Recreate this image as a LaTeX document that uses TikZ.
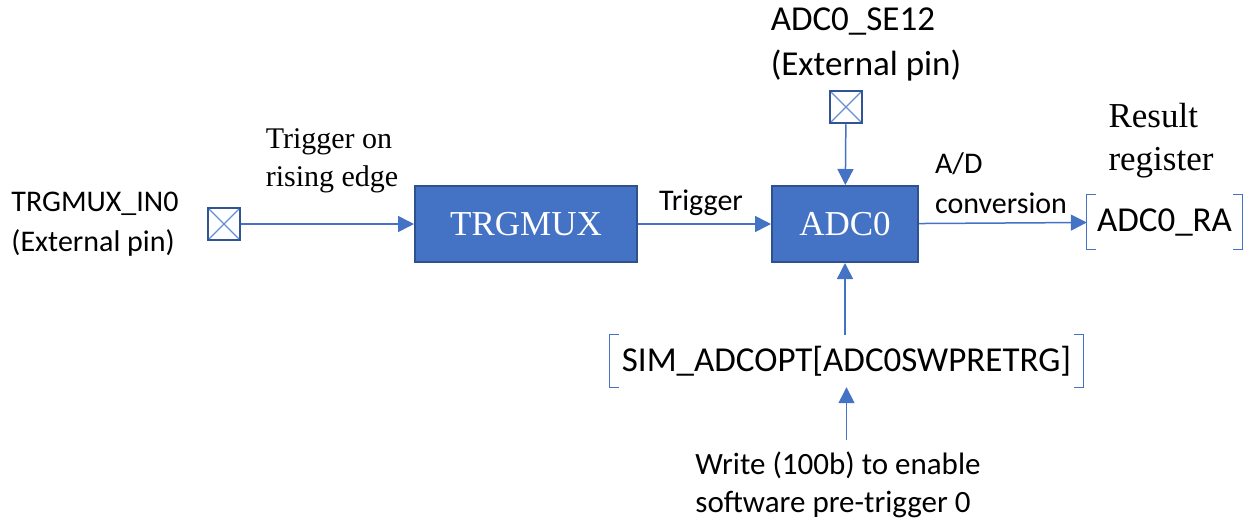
\documentclass[tikz,border=0pt]{standalone}
\usepackage{fontspec}
\setmainfont{Liberation Serif}
\newfontfamily\calibri{Carlito}
\usepackage{tikz}
\usetikzlibrary{arrows.meta,positioning}
\definecolor{boxblue}{HTML}{4472C4}
\definecolor{edgeblue}{HTML}{2F528F}
\definecolor{pinblue}{HTML}{2F5597}

\begin{document}
\begin{tikzpicture}[x=1pt,y=-1pt,
  block/.style={draw=edgeblue, fill=boxblue, line width=2pt, text=white,
    font=\fontsize{35}{40}\selectfont},
  pin/.style={draw=pinblue, line width=2.5pt, minimum size=32pt, inner sep=0pt,
    path picture={\draw[boxblue!80, line width=1.3pt]
      (path picture bounding box.north west) -- (path picture bounding box.south east)
      (path picture bounding box.north east) -- (path picture bounding box.south west);}},
  note/.style={font=\calibri\fontsize{30}{40}\selectfont, align=left, inner sep=0pt},
  serifnote/.style={font=\fontsize{30}{38}\selectfont, align=left, inner sep=0pt},
  reg/.style={font=\calibri\fontsize{35}{40}\selectfont, inner sep=0pt},
  bracket/.style={draw=boxblue, line width=1.2pt},
  link/.style={draw=boxblue, line width=1.5pt, -{Triangle[length=16pt,width=16pt]}}]
  \useasboundingbox (0,0) rectangle (1244,522);

  % blocks and pins
  \node [block, minimum width=222pt, minimum height=76pt] (mux) at (526,224) {TRGMUX};
  \node [block, minimum width=146pt, minimum height=76pt] (adc) at (845,224) {ADC0};
  \node [pin] (inpin) at (224,224) {};
  \node [pin] (sepin) at (846,107) {};

  % registers
  \node [reg, minimum width=155pt, minimum height=55pt] (ra) at (1164.5,222) {ADC0\_RA};
  \node [reg, minimum width=473pt, minimum height=52pt] (sim) at (846.5,361) {SIM\_ADCOPT[ADC0SWPRETRG]};
  \draw [bracket] ([xshift=9pt]ra.north west) -- (ra.north west) -- (ra.south west) -- ++(9,0);
  \draw [bracket] ([xshift=-9pt]ra.north east) -- (ra.north east) -- (ra.south east) -- ++(-9,0);
  \draw [bracket] ([xshift=9pt]sim.north west) -- (sim.north west) -- (sim.south west) -- ++(9,0);
  \draw [bracket] ([xshift=-9pt]sim.north east) -- (sim.north east) -- (sim.south east) -- ++(-9,0);

  % labels
  \node [note] (inlabel) at (95,224) {TRGMUX\_IN0\\(External pin)};
  \node [note, font=\calibri\fontsize{35}{45}\selectfont] (selabel) at (866,44) {ADC0\_SE12\\(External pin)};
  \node [serifnote] (edge) at (332,161) {Trigger on\\rising edge};
  \node [note] (trig) at (701,203) {Trigger};
  \node [note] (conv) at (1001,183) {A/D\\conversion};
  \node [serifnote, font=\fontsize{35}{43}\selectfont] (result) at (1161,141) {Result\\register};
  \node [note, font=\calibri\fontsize{31}{38}\selectfont] (write) at (838,485) {Write (100b) to enable\\software pre-trigger 0};

  % connectors
  \draw [link] (inpin) -- (mux);
  \draw [link] (mux) -- (adc);
  \draw [link] (adc) -- (ra);
  \draw [link] (sepin) -- (adc);
  \draw [link] (sim.north -| adc.south) -- (adc.south);
  \draw [link] ([yshift=-53pt]sim.south) -- (sim.south);
\end{tikzpicture}
\end{document}
